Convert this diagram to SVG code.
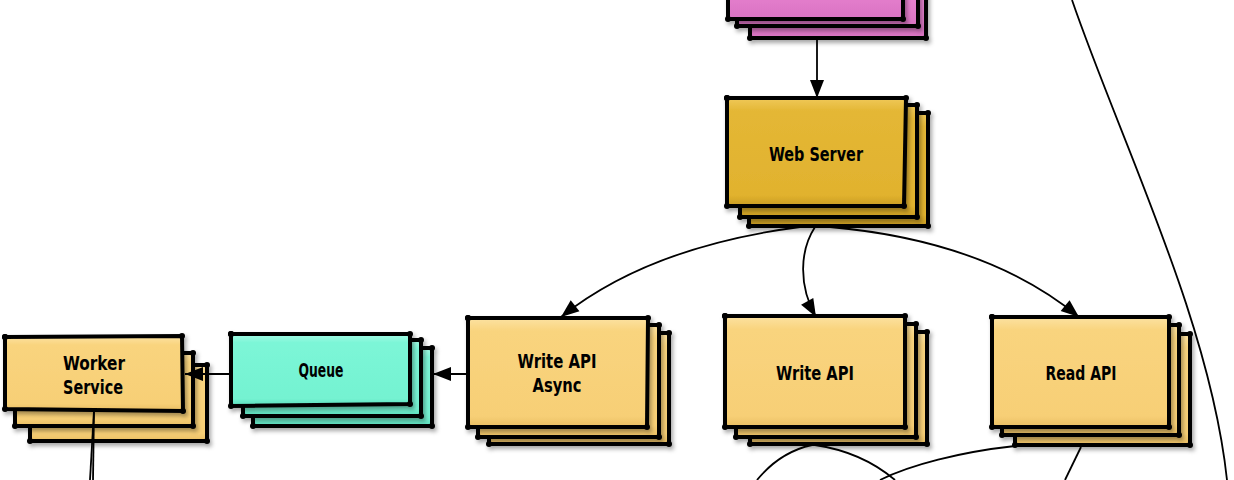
<svg xmlns="http://www.w3.org/2000/svg" width="1234" height="480" viewBox="0 0 1234 480">
<defs>
<style>
.box{stroke:#000;stroke-width:4;stroke-linejoin:miter;filter:url(#sh);marker-start:url(#dot);marker-mid:url(#dot);marker-end:url(#dot)}
.y{fill:url(#gy)}
.g{fill:url(#gg)}
.q{fill:url(#gq)}
.p{fill:url(#gp)}
.lbl{font-family:"DejaVu Sans Condensed","DejaVu Sans","Liberation Sans",sans-serif;font-weight:bold;font-size:19px;fill:#000;text-anchor:middle}
.c{fill:none;stroke:#000;stroke-width:1.8}
.a{marker-end:url(#arr)}
</style>
<filter id="sh" x="-10%" y="-10%" width="130%" height="140%">
<feDropShadow dx="2" dy="3" stdDeviation="2" flood-color="#000" flood-opacity="0.35"/>
</filter>
<marker id="dot" markerUnits="userSpaceOnUse" markerWidth="8" markerHeight="8" refX="4" refY="4" overflow="visible">
<circle cx="4" cy="4" r="3" fill="#000"/>
</marker>
<marker id="arr" markerUnits="userSpaceOnUse" markerWidth="18" markerHeight="14" refX="18" refY="7" orient="auto" overflow="visible">
<path d="M0,0 L18,7 L0,14 Z" fill="#000"/>
</marker>
<linearGradient id="gy" x1="0" y1="0" x2="0" y2="1">
<stop offset="0" stop-color="#FCE2A2"/><stop offset="0.12" stop-color="#F9D47E"/><stop offset="0.9" stop-color="#F7CF76"/><stop offset="1" stop-color="#E9BE63"/>
</linearGradient>
<linearGradient id="gg" x1="0" y1="0" x2="0" y2="1">
<stop offset="0" stop-color="#F0C95A"/><stop offset="0.12" stop-color="#E4B735"/><stop offset="0.9" stop-color="#E1B22E"/><stop offset="1" stop-color="#C99C22"/>
</linearGradient>
<linearGradient id="gq" x1="0" y1="0" x2="0" y2="1">
<stop offset="0" stop-color="#A6FBE5"/><stop offset="0.12" stop-color="#7CF6D7"/><stop offset="0.9" stop-color="#74F2D1"/><stop offset="1" stop-color="#5ADDBB"/>
</linearGradient>
<linearGradient id="gp" x1="0" y1="0" x2="0" y2="1">
<stop offset="0" stop-color="#F6A6E4"/><stop offset="0.5" stop-color="#F18BD9"/><stop offset="1" stop-color="#D973C2"/>
</linearGradient>
</defs>

<g id="node-pink">
<path class="box p" d="M750,-60 H926 V38 H750 Z"/>
<path class="box p" d="M737,-70 H918 V26 H737 Z"/>
<path class="box p" d="M728,-80 H903 V19 H728 Z"/>
</g>

<g id="node-webserver">
<path class="box g" d="M749,113 H928 V226 H749 Z"/>
<path class="box g" d="M740,105 H917 V217 H740 Z"/>
<path class="box g" d="M727,98 H906 L904,206 H727 Z"/>
<text class="lbl" x="816" y="161" textLength="94" lengthAdjust="spacingAndGlyphs">Web Server</text>
</g>

<g id="node-writeapiasync">
<path class="box y" d="M489,333 H669 V444 H489 Z"/>
<path class="box y" d="M478,325 H659 V437 H478 Z"/>
<path class="box y" d="M468,318 H648 L647,427 H468 Z"/>
<text class="lbl" x="557" y="368" textLength="79" lengthAdjust="spacingAndGlyphs">Write API</text>
<text class="lbl" x="557" y="392" textLength="49" lengthAdjust="spacingAndGlyphs">Async</text>
</g>

<g id="node-writeapi">
<path class="box y" d="M750,332 H927 V444 H750 Z"/>
<path class="box y" d="M736,324 H916 V437 H736 Z"/>
<path class="box y" d="M725,316 H905 V427 H725 Z"/>
<text class="lbl" x="815" y="380" textLength="78" lengthAdjust="spacingAndGlyphs">Write API</text>
</g>

<g id="node-readapi">
<path class="box y" d="M1015,334 H1190 V445 H1015 Z"/>
<path class="box y" d="M1002,325 H1179 V435 H1002 Z"/>
<path class="box y" d="M992,317 H1169 V427 H992 Z"/>
<text class="lbl" x="1081" y="380" textLength="71" lengthAdjust="spacingAndGlyphs">Read API</text>
</g>

<g id="node-queue">
<path class="box q" d="M253,348 H432 V426 H253 Z"/>
<path class="box q" d="M243,340 H421 V416 H243 Z"/>
<path class="box q" d="M231,334 H410 V404 L231,406 Z"/>
<text class="lbl" x="321" y="377" textLength="45" lengthAdjust="spacingAndGlyphs">Queue</text>
</g>

<g id="node-worker">
<path class="box y" d="M30,365 H207 V441 H30 Z"/>
<path class="box y" d="M15,353 H193 V426 H15 Z"/>
<path class="box y" d="M5,337 L182,336 L183,411 L5,409 Z"/>
<text class="lbl" x="94" y="370" textLength="62" lengthAdjust="spacingAndGlyphs">Worker</text>
<text class="lbl" x="93" y="394" textLength="60" lengthAdjust="spacingAndGlyphs">Service</text>
</g>

<g id="connectors">
<path class="c a" d="M817,38 L817,98"/>
<path class="c a" d="M800,227 C700,240 620,270 561,317"/>
<path class="c a" d="M815,227 C800,250 798,285 816,317"/>
<path class="c a" d="M830,227 C920,235 1010,260 1079,317"/>
<path class="c a" d="M468,374 L433,374"/>
<path class="c a" d="M231,374 L185,374"/>
<path class="c" d="M94,410 L90,480"/>
<path class="c" d="M94,410 L93,480"/>
<path class="c" d="M812,445 Q780,452 757,480"/>
<path class="c" d="M815,445 Q862,452 895,480"/>
<path class="c" d="M1015,446 C960,452 910,465 880,480"/>
<path class="c" d="M1081,447 L1065,480"/>
<path class="c" d="M1072,0 C1120,140 1210,320 1227,480"/>
</g>
</svg>
